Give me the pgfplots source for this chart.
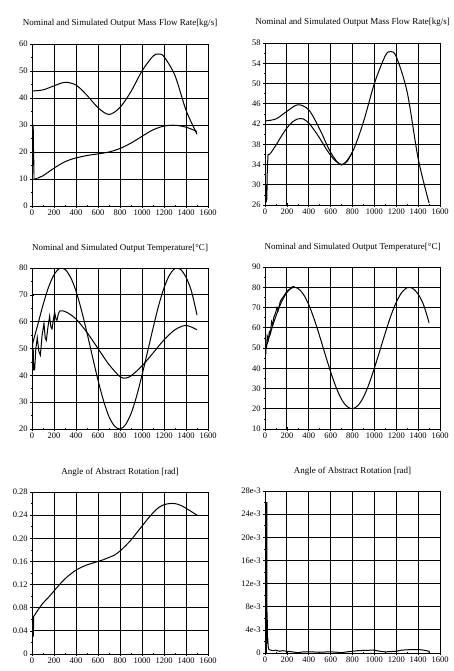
\documentclass[border=0pt]{standalone}
\usepackage{pgfplots}
\pgfplotsset{compat=1.18}
\usepackage{fontspec}
\setmainfont{Liberation Serif}
\pgfplotsset{
  every axis/.append style={
    scale only axis, width=176pt, height=162pt,
    font=\fontsize{8.5}{9}\selectfont,
    /pgf/number format/assume math mode=true,
    /pgf/number format/1000 sep={},
    xmin=0, xmax=1600, xtick={0,200,...,1600},
    minor x tick num=1, minor y tick num=1,
    tick pos=left, tick align=center,
    major tick length=3.5pt, minor tick length=2pt,
    grid=major, major grid style={black, line width=0.9pt},
    axis line style={black, line width=0.8pt},
    tick style={black, line width=0.6pt},
    xticklabel style={yshift=1pt},
    yticklabel style={xshift=1pt},
    title style={at={(0.5,1)}, anchor=base, yshift=12pt, font=\fontsize{9}{10}\selectfont},
    cycle list={{black, line width=1pt, mark=none}},
    every axis plot/.append style={black, line width=1pt, mark=none},
  },
}
\begin{document}
\begin{tikzpicture}
\path[use as bounding box] (0pt,0pt) rectangle (454pt,-671pt);

% ---------- Panel 1 ----------
\begin{axis}[at={(32pt,-44pt)}, anchor=north west,
  title={Nominal and Simulated Output Mass Flow Rate[kg/s]},
  ymin=0, ymax=60, ytick={0,10,...,60}]
\addplot[smooth] coordinates {(0,42.6) (100,43.0) (200,44.5) (300,45.8) (400,44.8) (500,41.0) (600,36.4) (700,33.9) (800,36.5) (900,42.4) (1000,50.0) (1100,55.5) (1150,56.3) (1200,55.3) (1300,48.3) (1400,35.5) (1500,26.6)};
\addplot[sharp plot, line width=0.8pt] coordinates {(12,30) (13,24) (14,15) (15,21) (16,12) (17,17) (19,10) (25,10) (50,10.3)};
\addplot[smooth] coordinates {(50,10.3) (100,11.2) (150,12.6) (200,14.0) (250,15.3) (300,16.4) (350,17.2) (400,17.8) (500,18.7) (600,19.3) (700,20.0) (800,21.3) (900,23.3) (1000,25.8) (1100,28.2) (1200,29.6) (1300,29.9) (1400,29.2) (1500,27.6)};
\end{axis}

% ---------- Panel 2 ----------
\begin{axis}[at={(265pt,-43pt)}, anchor=north west, width=175pt,
  title={Nominal and Simulated Output Mass Flow Rate[kg/s]},
  ymin=26, ymax=58, ytick={26,30,...,58}]
\addplot[smooth] coordinates {(0,42.6) (100,43.0) (200,44.5) (300,45.8) (400,44.8) (500,41.0) (600,36.4) (700,33.9) (800,36.5) (900,42.4) (1000,50.0) (1100,55.5) (1150,56.3) (1200,55.3) (1300,48.3) (1400,35.2) (1500,26.4)};
\addplot[sharp plot] coordinates {(12,28) (13,26.5) (15,30) (17,27) (21,33) (28,36) (40,36) (50,36.2)};
\addplot[smooth] coordinates {(50,36.2) (100,37.8) (150,39.6) (200,41.2) (250,42.4) (300,43.0) (350,43.0) (400,42.2) (450,40.8) (500,39.2) (550,37.4) (600,35.8) (650,34.6) (700,34.0) (750,34.6) (800,36.5)};
\end{axis}

% ---------- Panel 3 ----------
\begin{axis}[at={(32pt,-268pt)}, anchor=north west, height=161pt,
  title={Nominal and Simulated Output Temperature[\textdegree C]},
  ymin=20, ymax=80, ytick={20,30,...,80}]
\addplot[smooth] coordinates {(0,51) (50,58.5) (100,66.2) (150,72.8) (200,77.5) (250,79.8) (300,79.5) (350,76.6) (400,71.4) (450,64.2) (500,55.8) (550,46.9) (600,38.2) (650,30.6) (700,24.6) (750,21.1) (800,20.0) (850,21.6) (900,25.7) (950,32.1) (1000,40.1) (1050,48.7) (1100,57.5) (1150,65.8) (1200,72.6) (1250,77.4) (1300,79.8) (1350,79.5) (1400,76.6) (1450,71.3) (1500,62.5)};
\addplot[sharp plot] coordinates {(5,52) (8,43) (11,50) (15,42) (24,42) (35,50) (48,54) (62,49) (76,47.5) (92,55) (109,59.4) (120,54) (130,53) (145,58) (160,62) (172,58) (182,57.3) (195,61) (206,63.5) (218,61) (227,60.5) (240,63) (252,64)};
\addplot[smooth] coordinates {(252,64) (280,64) (320,63.4) (400,61) (500,56) (600,50) (700,44) (800,39.5) (850,39) (900,39.8) (1000,43.5) (1100,48.3) (1200,53.2) (1300,57) (1400,58.6) (1500,57)};
\end{axis}

% ---------- Panel 4 ----------
\begin{axis}[at={(265pt,-267pt)}, anchor=north west, width=175pt,
  title={Nominal and Simulated Output Temperature[\textdegree C]},
  ymin=10, ymax=90, ytick={10,20,...,90}]
\addplot[smooth] coordinates {(0,48.7) (50,57.5) (100,65.8) (150,72.6) (200,77.4) (250,79.8) (300,79.5) (350,76.6) (400,71.4) (450,64.2) (500,55.8) (550,46.9) (600,38.2) (650,30.6) (700,24.6) (750,21.1) (800,20.0) (850,21.6) (900,25.7) (950,32.1) (1000,40.1) (1050,48.7) (1100,57.5) (1150,65.8) (1200,72.6) (1250,77.4) (1300,79.8) (1350,79.5) (1400,76.6) (1450,71.3) (1500,62.5)};
\addplot[sharp plot] coordinates {(8,47) (10,52) (14,50) (20,56) (30,54) (40,58) (50,57) (60,63) (70,61.5) (80,65) (100,68) (110,70) (120,68.5) (140,73) (150,74) (170,75.5) (200,78) (250,80.2) (270,80.5)};
\end{axis}

% ---------- Panel 5 ----------
\begin{axis}[at={(32pt,-492pt)}, anchor=north west,
  title={Angle of Abstract Rotation [rad]},
  ymin=0, ymax=0.28, ytick={0,0.04,...,0.28},
  yticklabels={0,0.04,0.08,0.12,0.16,0.20,0.24,0.28}]
\addplot[sharp plot] coordinates {(12,0.03) (13,0.06) (14,0.045) (15,0.065) (20,0.066)};
\addplot[smooth] coordinates {(20,0.066) (50,0.075) (100,0.088) (150,0.098) (200,0.109) (250,0.12) (300,0.13) (350,0.138) (400,0.145) (450,0.15) (500,0.154) (550,0.157) (600,0.16) (650,0.163) (700,0.167) (750,0.171) (800,0.178) (850,0.187) (900,0.197) (950,0.209) (1000,0.221) (1050,0.233) (1100,0.244) (1150,0.253) (1200,0.258) (1250,0.26) (1300,0.26) (1350,0.257) (1400,0.252) (1450,0.246) (1500,0.24)};
\end{axis}

% ---------- Panel 6 ----------
\begin{axis}[at={(265pt,-491pt)}, anchor=north west, width=175pt,
  title={Angle of Abstract Rotation [rad]},
  ymin=0, ymax=28, ytick={0,4,...,28},
  yticklabels={0,4e-3,8e-3,12e-3,16e-3,20e-3,24e-3,28e-3}]
\addplot[sharp plot] coordinates {(12,0) (13,26) (16,26) (17,7) (20,7) (22,2) (26,2.2) (30,1) (36,0.6) (50,0.5) (80,0.4) (100,0.5) (130,0.3) (160,0.4) (200,0.3) (250,0.2) (300,0.05) (350,0.2) (400,0.2) (500,0.15) (600,0.2) (650,0.15) (700,0.05) (750,0.2) (800,0.3) (850,0.4) (900,0.45) (1000,0.5) (1050,0.3) (1100,0.2) (1200,0.3) (1250,0.5) (1300,0.55) (1350,0.6) (1400,0.6) (1450,0.5) (1500,0.3) (1500,0)};
\end{axis}
\end{tikzpicture}
\end{document}
